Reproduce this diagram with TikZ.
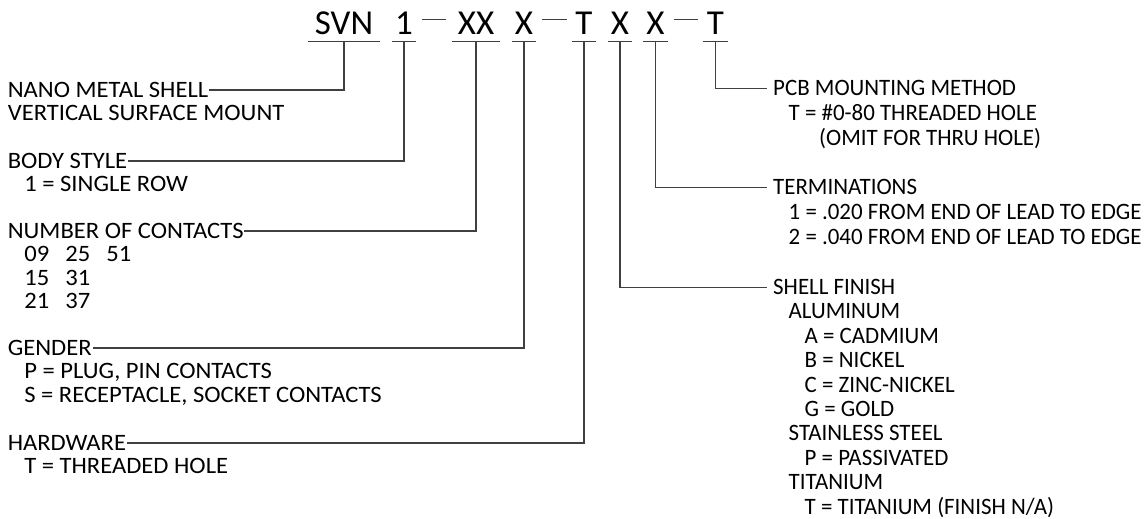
\documentclass[tikz,border=0pt]{standalone}
\usepackage{fontspec}
\setmainfont{Carlito}
\newfontfamily\leftfont[FakeStretch=1.047]{Carlito}
\newfontfamily\rightfont[FakeStretch=0.975]{Carlito}
\begin{document}
\begin{tikzpicture}[x=1pt,y=-1pt,
  lead/.style={draw=black!75, line width=1.1pt},
  code/.style={font=\fontsize{35}{35}\selectfont, inner sep=0pt, anchor=base, text height=22pt, text depth=6pt},
  headl/.style={font=\leftfont\fontsize{23.5}{23.4}\selectfont, inner sep=0.6pt, anchor=base west, text height=14.8pt, text depth=0pt},
  headr/.style={font=\rightfont\fontsize{23.5}{24.8}\selectfont, inner sep=0.6pt, inner xsep=6pt, anchor=base west, text height=14.8pt, text depth=0pt},
  detl/.style={font=\leftfont\fontsize{23.5}{23.4}\selectfont, inner sep=0pt, anchor=base west, align=left},
  detr/.style={font=\rightfont\fontsize{23.5}{24.8}\selectfont, inner sep=0pt, anchor=base west, align=left},
  detrs/.style={font=\rightfont\fontsize{23.5}{24.4}\selectfont, inner sep=0pt, anchor=base west, align=left},
]
\useasboundingbox (0,0) rectangle (1146,519);

% part number code
\node[code, minimum width=72pt] (svn) at (344,35) {SVN};
\node[code, minimum width=24pt] (c1)  at (404,35) {1};
\node[code, minimum width=48pt] (xx)  at (476,35) {XX};
\node[code, minimum width=24pt] (x1)  at (524,35) {X};
\node[code, minimum width=24pt] (t1)  at (584,35) {T};
\node[code, minimum width=24pt] (x2)  at (620,35) {X};
\node[code, minimum width=25pt] (x3)  at (655.5,35) {X};
\node[code, minimum width=25pt] (t2)  at (715.5,35) {T};
\foreach \n in {svn,c1,xx,x1,t1,x2,x3,t2}
  \draw[lead] (\n.south west) -- (\n.south east);

% dashes
\coordinate (d1a) at (422,19.5); \coordinate (d1b) at (446,19.5);
\coordinate (d2a) at (542,19.5); \coordinate (d2b) at (567,19.5);
\coordinate (d3a) at (674,19.5); \coordinate (d3b) at (698,19.5);
\draw[lead] (d1a) -- (d1b);
\draw[lead] (d2a) -- (d2b);
\draw[lead] (d3a) -- (d3b);

% left column (multi-line nodes are anchored at the baseline of their last line)
\node[headl] (nano) at (7,97.4) {NANO METAL SHELL};
\node[detl] (nanod) at (7.6,120.8) {VERTICAL SURFACE MOUNT};

\node[headl] (body) at (7,168.4) {BODY STYLE};
\node[detl] (bodyd) at (7.6,191.8) {\hspace*{16.5pt}1 = SINGLE ROW};

\node[headl] (cont) at (7,238.4) {NUMBER OF CONTACTS};
\node[detl] (contd) at (7.6,308.6) {%
  \hspace*{16.5pt}\makebox[41pt][l]{09}\makebox[41pt][l]{25}51\\
  \hspace*{16.5pt}\makebox[41pt][l]{15}31\\
  \hspace*{16.5pt}\makebox[41pt][l]{21}37};

\node[headl] (gend) at (7,355.4) {GENDER};
\node[detl] (gendd) at (7.6,402.2) {%
  \hspace*{16.5pt}P = PLUG, PIN CONTACTS\\
  \hspace*{16.5pt}S = RECEPTACLE, SOCKET CONTACTS};

\node[headl] (hard) at (7,450.4) {HARDWARE};
\node[detl] (hardd) at (7.6,473.8) {\hspace*{16.5pt}T = THREADED HOLE};

% right column
\node[headr] (pcb) at (767,95.5) {PCB MOUNTING METHOD};
\node[detr] (pcbd) at (773,145.1) {%
  \hspace*{15.5pt}T = \#0-80 THREADED HOLE\\
  \hspace*{46pt}(OMIT FOR THRU HOLE)};

\node[headr] (term) at (767,194.5) {TERMINATIONS};
\node[detr] (termd) at (773,244.1) {%
  \hspace*{15.5pt}1 = .020 FROM END OF LEAD TO EDGE\\
  \hspace*{15.5pt}2 = .040 FROM END OF LEAD TO EDGE};

\node[headr] (shell) at (767,294.5) {SHELL FINISH};
\node[detrs] (shelld) at (773,514.1) {%
  \hspace*{15.5pt}ALUMINUM\\
  \hspace*{31.5pt}A = CADMIUM\\
  \hspace*{31.5pt}B = NICKEL\\
  \hspace*{31.5pt}C = ZINC-NICKEL\\
  \hspace*{31.5pt}G = GOLD\\
  \hspace*{15.5pt}STAINLESS STEEL\\
  \hspace*{31.5pt}P = PASSIVATED\\
  \hspace*{15.5pt}TITANIUM\\
  \hspace*{31.5pt}T = TITANIUM (FINISH N/A)};

% leaders
\draw[lead] (svn.south) |- (nano.east);
\draw[lead] (c1.south)  |- (body.east);
\draw[lead] (xx.south)  |- (cont.east);
\draw[lead] (x1.south)  |- (gend.east);
\draw[lead] (t1.south)  |- (hard.east);
\draw[lead] (x2.south)  |- (shell.west);
\draw[lead] (x3.south)  |- (term.west);
\draw[lead] (t2.south)  |- (pcb.west);
\end{tikzpicture}
\end{document}
